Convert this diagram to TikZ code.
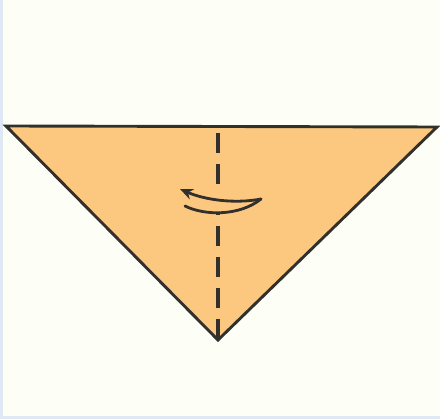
\documentclass[tikz,border=0pt]{standalone}
\usetikzlibrary{arrows.meta}
\definecolor{paper}{RGB}{252,200,128}
\definecolor{bg}{RGB}{253,254,246}
\definecolor{edge}{RGB}{50,48,44}
\definecolor{frameblue}{RGB}{222,233,245}
\tikzset{
  fold/.style={draw=edge, line width=2.9pt, line join=miter},
  valley/.style={draw=edge, line width=3.2pt, dash pattern=on 20pt off 11pt},
  turn/.style={draw=edge, line width=2.8pt, line cap=round}
}
\begin{document}
\begin{tikzpicture}[x=1pt,y=-1pt]
  \useasboundingbox (0,0) rectangle (440,419);
  \fill[bg] (0,0) rectangle (440,419);
  \fill[frameblue] (0,0) rectangle (2.5,419);
  \fill[frameblue] (0,416) rectangle (440,419);
  \coordinate (L) at (6,126);
  \coordinate (R) at (437,127);
  \coordinate (B) at (218,340);
  \coordinate (T) at (218,133);
  \filldraw[fold, fill=paper] (L) -- (R) -- (B) -- cycle;
  \draw[valley] (T) -- (B);
  \coordinate (ae) at (261,199);
  \coordinate (at) at (180,189);
  \coordinate (bs) at (185,206);
  \fill[paper] (208,186) rectangle (228,214);
  \draw[turn, -{Stealth[length=13pt,width=11pt]}] (ae) .. controls (235,204) and (205,200) .. (at);
  \draw[turn] (ae) .. controls (240,216) and (205,216) .. (bs);
\end{tikzpicture}
\end{document}
